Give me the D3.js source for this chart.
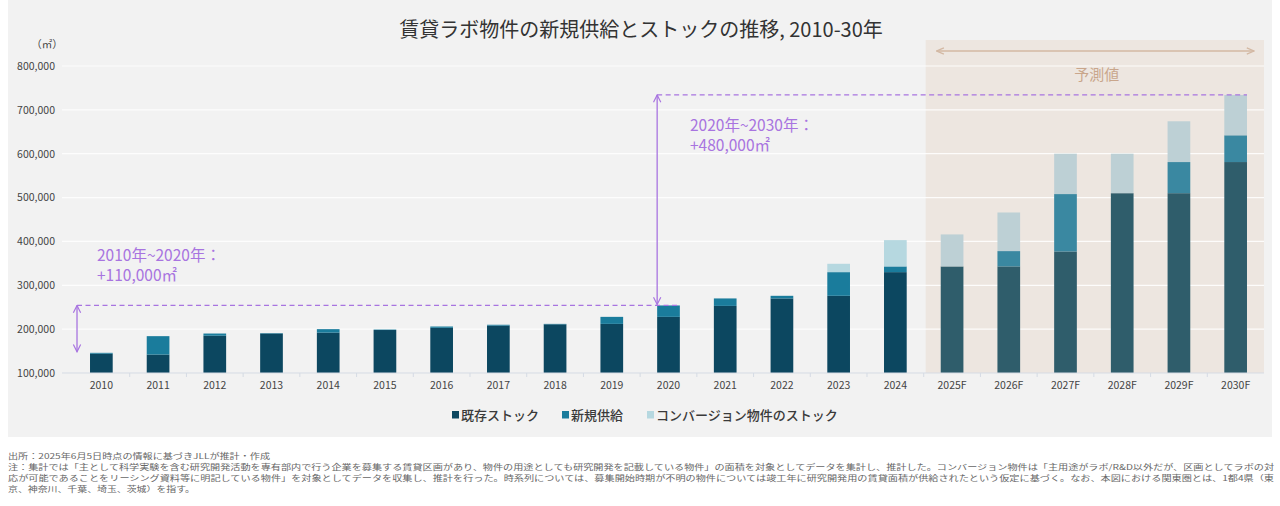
<!DOCTYPE html>
<html>
<head>
<meta charset="utf-8">
<script src="https://cdn.jsdelivr.net/npm/d3@7"></script>
<style>
  body { margin: 0; background: #fff; }
  text { font-family: "Noto Sans CJK JP", "Noto Sans", sans-serif; }
</style>
</head>
<body>
<div class="chart"></div>
<script>
// data (m2)
const years = ['2010','2011','2012','2013','2014','2015','2016','2017','2018','2019','2020',
  '2021','2022','2023','2024','2025F','2026F','2027F','2028F','2029F','2030F'];
const existing = [144000,142000,185000,190000,192000,198000,203000,208000,211000,212000,228000,
  253000,270000,276000,330000,343000,343000,377000,510000,510000,581000];
const newSupply = [2000,42000,5000,1000,8000,1000,3000,2000,1000,16000,26000,
  17000,6000,54000,13000,0,35000,131000,0,71000,61000];
const conversion = [0,0,0,0,0,0,0,0,0,0,0,
  0,0,19000,60000,73000,88000,92000,90000,93000,92000];
const yTicks = [100000,200000,300000,400000,500000,600000,700000,800000];
const forecastYears = ['2025F','2026F','2027F','2028F','2029F','2030F'];
const seriesNames = ['既存ストック','新規供給','コンバージョン物件のストック'];
const footnotes = [
  '出所：2025年6月5日時点の情報に基づきJLLが推計・作成',
  '注：集計では「主として科学実験を含む研究開発活動を専有部内で行う企業を募集する賃貸区画があり、物件の用途としても研究開発を記載している物件」の面積を対象としてデータを集計し、推計した。コンバージョン物件は「主用途がラボ/R&D以外だが、区画としてラボの対',
  '応が可能であることをリーシング資料等に明記している物件」を対象としてデータを収集し、推計を行った。時系列については、募集開始時期が不明の物件については竣工年に研究開発用の賃貸面積が供給されたという仮定に基づく。なお、本図における関東圏とは、1都4県（東',
  '京、神奈川、千葉、埼玉、茨城）を指す。'
];
const footWidths = [262, 1266, 1266, 187];

const W = 1280, H = 506;
const colors = ['#0c4760', '#1a7c9c', '#b6d8e0'];
const fcColors = ['#2f5d6b', '#3a88a1', '#bdd0d5'];
const purple = '#a874e0';

const rows = years.map((y, i) => ({ year: y, existing: existing[i], newSupply: newSupply[i], conversion: conversion[i] }));
const keys = ['existing', 'newSupply', 'conversion'];

const svg = d3.select('.chart').append('svg')
  .attr('width', W).attr('height', H);

svg.append('defs').html(`
  <marker id="ap" viewBox="0 0 10 10" refX="9" refY="5" markerWidth="7" markerHeight="7" orient="auto-start-reverse">
    <path d="M1,1 L9,5 L1,9" fill="none" stroke="${purple}" stroke-width="1.3"/>
  </marker>
  <marker id="at" viewBox="0 0 10 10" refX="9" refY="5" markerWidth="6" markerHeight="6" orient="auto-start-reverse">
    <path d="M1,1.5 L9,5 L1,8.5" fill="none" stroke="#d3b8a3" stroke-width="1.4"/>
  </marker>`);

// grey panel
svg.append('rect').attr('x', 8).attr('y', 0).attr('width', 1264).attr('height', 437).attr('fill', '#f2f2f2');

const x = d3.scaleBand().domain(years).range([73, 1264]).paddingInner(0.6).paddingOuter(0.3);
const y = d3.scaleLinear().domain([100000, 800000]).range([373, 66]);

// forecast shading
const fx0 = x(forecastYears[0]) - x.step() * x.paddingInner() / 2 + 2;
svg.append('rect')
  .attr('x', fx0).attr('y', 40)
  .attr('width', 1264 - fx0).attr('height', y(100000) - 40)
  .attr('fill', '#ede6e0');

// gridlines
svg.append('g').selectAll('line').data(yTicks.slice(1)).join('line')
  .attr('x1', 62).attr('x2', 1264)
  .attr('y1', d => y(d)).attr('y2', d => y(d))
  .attr('stroke', '#ffffff').attr('stroke-opacity', 0.85).attr('stroke-width', 1.2);

// y axis labels
const yAxis = svg.append('g').attr('transform', 'translate(60,0)')
  .call(d3.axisLeft(y).tickValues(yTicks).tickSize(0).tickFormat(d3.format(',')));
yAxis.select('.domain').remove();
yAxis.selectAll('text').attr('fill', '#444').attr('font-size', 10.5).attr('dx', '-2');

svg.append('text').attr('x', 47).attr('y', 48).attr('text-anchor', 'middle')
  .attr('font-size', 10.5).attr('fill', '#444').text('（㎡）');

// stacked bars, cut at the 100,000 baseline
const stacked = d3.stack().keys(keys)(rows);
svg.append('g').selectAll('g').data(stacked).join('g')
  .each(function (s, k) {
    d3.select(this).selectAll('rect').data(s).join('rect')
      .attr('x', d => x(d.data.year))
      .attr('width', x.bandwidth())
      .attr('y', d => y(Math.max(d[1], 100000)))
      .attr('height', d => y(Math.max(d[0], 100000)) - y(Math.max(d[1], 100000)))
      .attr('fill', d => forecastYears.includes(d.data.year) ? fcColors[k] : colors[k]);
  });

// x axis
const xAxis = svg.append('g').attr('transform', `translate(0,${y(100000)})`)
  .call(d3.axisBottom(x).tickSize(0).tickPadding(9));
xAxis.select('.domain').attr('stroke', '#d5dbe4').attr('d', 'M62,0H1264');
xAxis.selectAll('text').attr('fill', '#444').attr('font-size', 10.5);
svg.append('g').selectAll('line').data(years.slice(1)).join('line')
  .attr('x1', d => x(d) - x.step() * x.paddingInner() / 2)
  .attr('x2', d => x(d) - x.step() * x.paddingInner() / 2)
  .attr('y1', y(100000)).attr('y2', y(100000) + 4)
  .attr('stroke', '#d5dbe4');

// forecast arrow and label
svg.append('line')
  .attr('x1', fx0 + 11).attr('x2', 1254).attr('y1', 51).attr('y2', 51)
  .attr('stroke', '#d3b8a3').attr('stroke-width', 1.5)
  .attr('marker-start', 'url(#at)').attr('marker-end', 'url(#at)');
svg.append('text').attr('x', (fx0 + 1264) / 2 + 2).attr('y', 80).attr('text-anchor', 'middle')
  .attr('font-size', 15).attr('fill', '#c9a68c').text('予測値');

// annotations
const total = i => existing[i] + newSupply[i] + conversion[i];
const i10 = years.indexOf('2010'), i20 = years.indexOf('2020'), i30 = years.indexOf('2030F');
const ann = svg.append('g');
const dash = (x1, x2, yy) => ann.append('line').attr('x1', x1).attr('x2', x2).attr('y1', yy).attr('y2', yy)
  .attr('stroke', purple).attr('stroke-width', 1.2).attr('stroke-dasharray', '5,3.5');
const arrow = (xx, y1, y2) => ann.append('line').attr('x1', xx).attr('x2', xx).attr('y1', y1).attr('y2', y2)
  .attr('stroke', purple).attr('stroke-width', 1.3)
  .attr('marker-start', 'url(#ap)').attr('marker-end', 'url(#ap)');

dash(x('2010') - 13, x('2020') + x.bandwidth(), y(total(i20)));
arrow(x('2010') - 13, y(total(i20)), y(total(i10)) - 1);
dash(x('2020'), x('2030F') + x.bandwidth(), y(total(i30)));
arrow(x('2020'), y(total(i30)), y(total(i20)) - 1);

const label = (xx, yy, lines) => ann.append('text').attr('x', xx).attr('y', yy)
  .attr('font-size', 15.5).attr('fill', purple)
  .selectAll('tspan').data(lines).join('tspan')
  .attr('x', xx).attr('dy', (d, i) => i ? 20 : 0).text(d => d);
label(97, 261, ['2010年~2020年：', '+110,000㎡']);
label(690, 131, ['2020年~2030年：', '+480,000㎡']);

// title
svg.append('text').attr('x', 641).attr('y', 37).attr('text-anchor', 'middle')
  .attr('font-size', 20).attr('fill', '#333').text('賃貸ラボ物件の新規供給とストックの推移, 2010-30年');

// legend
const legendX = [452, 562, 647];
const lg = svg.append('g').selectAll('g').data(seriesNames).join('g')
  .attr('transform', (d, i) => `translate(${legendX[i]},420)`);
lg.append('rect').attr('x', 0).attr('y', -9).attr('width', 7).attr('height', 7.5).attr('fill', (d, i) => colors[i]);
lg.append('text').attr('x', 9).attr('y', 0).attr('font-size', 13).attr('font-weight', 500)
  .attr('fill', '#3a3a3a').text(d => d);

// footnotes
svg.append('g').selectAll('text').data(footnotes).join('text')
  .attr('x', 8).attr('y', (d, i) => 459 + i * 11)
  .attr('font-size', 7.5).attr('fill', '#666')
  .attr('textLength', (d, i) => footWidths[i])
  .attr('lengthAdjust', 'spacingAndGlyphs')
  .text(d => d);
</script>
</body>
</html>
